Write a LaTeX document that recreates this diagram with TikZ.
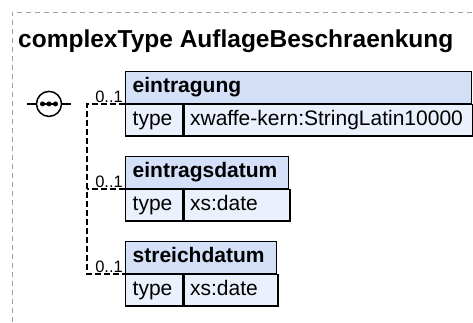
\documentclass[tikz,border=0pt]{standalone}
\usepackage{fontspec}
\setmainfont{Liberation Sans}
\usepackage{tikz}
\usetikzlibrary{calc,positioning}
\definecolor{hdrblue}{HTML}{D4E0F8}
\definecolor{rowblue}{HTML}{EAF0FC}
\definecolor{framegray}{HTML}{A0A0A0}
\tikzset{
  cell/.style={draw=black, line width=1.4bp, minimum height=31.5bp, inner ysep=0pt,
    text height=15bp, text depth=4.5bp, align=left},
  hdrcell/.style={cell, fill=hdrblue, inner xsep=7bp, anchor=north west,
    font=\fontsize{21bp}{25bp}\selectfont\bfseries},
  typecell/.style={cell, fill=rowblue, inner xsep=7bp, text width=43bp,
    font=\fontsize{21bp}{25bp}\selectfont},
  valcell/.style={cell, fill=rowblue, inner xsep=6bp,
    font=\fontsize{21bp}{25bp}\selectfont},
  mult/.style={inner sep=1bp, font=\fontsize{16.5bp}{18bp}\selectfont},
  conn/.style={line width=1.5bp, dash pattern=on 6bp off 3bp},
  seqcircle/.style={circle, draw=black, fill=white, line width=1.5bp, minimum size=25bp, inner sep=0pt},
  frame/.style={framegray, line width=1bp, dash pattern=on 5bp off 4bp}
}

\begin{document}
\begin{tikzpicture}[x=1bp, y=-1bp]
\useasboundingbox (0,0) rectangle (473,322);

% outer frame and title
\draw[frame] (12,322) |- (473,12);
\node[anchor=base west, inner sep=0pt, font=\fontsize{24.5bp}{28bp}\selectfont\bfseries] (title) at (18,47) {complexType AuflageBeschraenkung};

% eintragung
\node[hdrcell, text width=332bp] (eintragung) at (125,71) {eintragung};
\node[typecell, below right=0pt of eintragung.south west] (eintragungtype) {type};
\node[valcell, text width=277bp, right=0pt of eintragungtype] (eintragungval) {xwaffe-kern:StringLatin10000};

% eintragsdatum
\node[hdrcell, text width=149bp] (eintragsdatum) at (125,156) {eintragsdatum};
\node[typecell, below right=0pt of eintragsdatum.south west] (eintragsdatumtype) {type};
\node[valcell, text width=94bp, right=0pt of eintragsdatumtype] (eintragsdatumval) {xs:date};

% streichdatum
\node[hdrcell, text width=137bp] (streichdatum) at (125,241) {streichdatum};
\node[typecell, below right=0pt of streichdatum.south west] (streichdatumtype) {type};
\node[valcell, text width=82bp, right=0pt of streichdatumtype] (streichdatumval) {xs:date};

% sequence
\node[seqcircle] (seq) at ($(eintragung.south west)+(-76,0)$) {};
\draw[line width=1.5bp] (seq.west) -- ++(-9,0);
\draw[line width=1.5bp] (seq.east) -- ++(9,0);
\draw[line width=1.3bp] ($(seq.center)+(-6.5,0)$) -- ($(seq.center)+(6.5,0)$);
\foreach \dx in {-6.5,0,6.5}
  \fill ($(seq.center)+(\dx,0)$) circle (2.5bp);

% connectors
\draw[conn] (eintragung.south west) -- ++(-38,0) |- (streichdatum.south west);
\draw[conn] (eintragsdatum.south west) -- ++(-38,0);

% multiplicities
\node[mult, above left=0pt and 1bp of eintragung.south west] (eintragungmult) {0..1};
\node[mult, above left=0pt and 1bp of eintragsdatum.south west] (eintragsdatummult) {0..1};
\node[mult, above left=0pt and 1bp of streichdatum.south west] (streichdatummult) {0..1};

\end{tikzpicture}
\end{document}
